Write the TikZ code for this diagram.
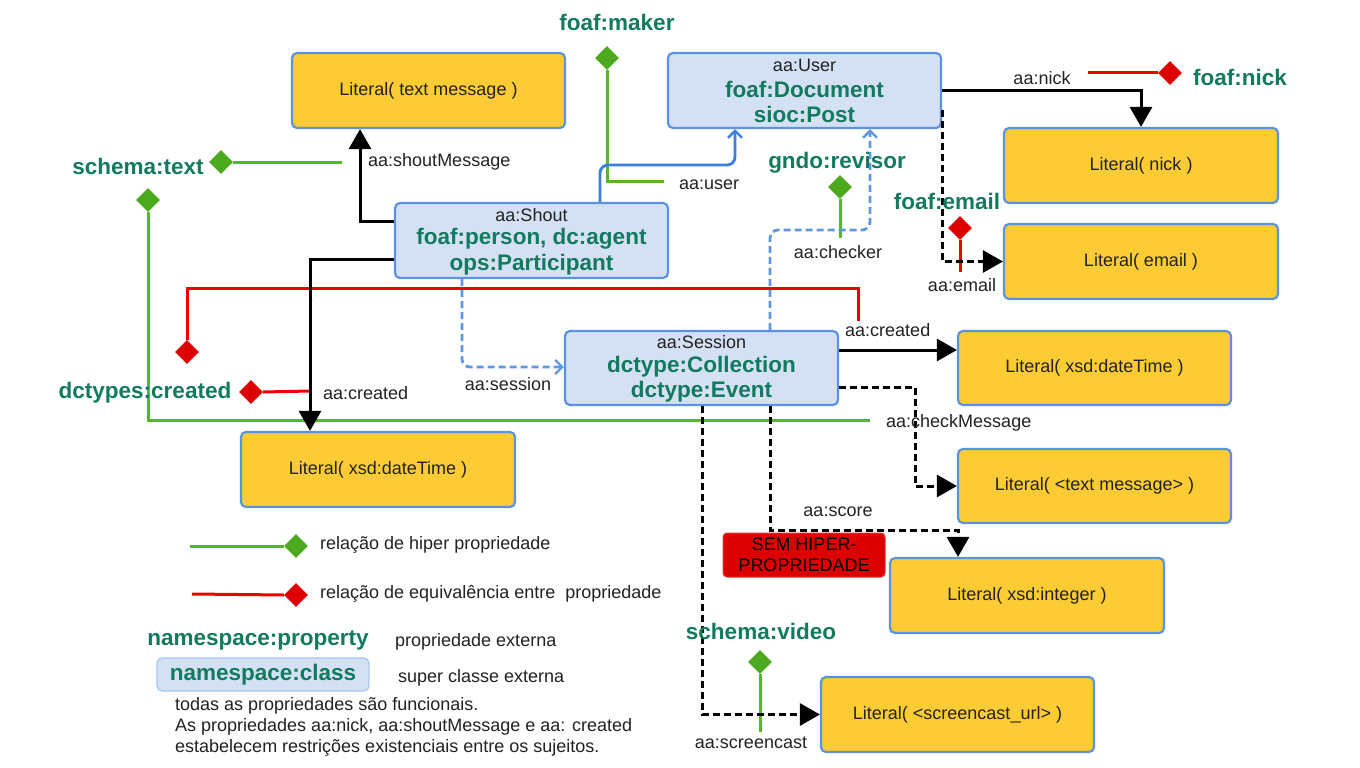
\documentclass[tikz,border=0pt]{standalone}
\usepackage{fontspec}
\setmainfont{Liberation Sans}
\usetikzlibrary{arrows.meta,shapes.geometric,calc}
\definecolor{litfill}{HTML}{FDCB33}
\definecolor{boxblue}{HTML}{5A93E1}
\definecolor{clsfill}{HTML}{D4E1F5}
\definecolor{gtext}{HTML}{127A5E}
\definecolor{hgreen}{HTML}{55B829}
\definecolor{dgreen}{HTML}{4DAA1F}
\definecolor{hred}{HTML}{EE0000}
\definecolor{dred}{HTML}{DD0000}
\definecolor{cblue}{HTML}{3A7FDC}
\definecolor{cbluel}{HTML}{5E97E6}
\definecolor{lgray}{HTML}{222222}
\definecolor{nsborder}{HTML}{A8C6EE}
\newcommand\myN{\fontsize{18}{21}\selectfont\color{lgray}}
\newcommand\myG{\fontsize{22.5}{26}\selectfont\bfseries\color{gtext}}
\begin{document}
\begin{tikzpicture}[x=1pt,y=-1pt,
  litbox/.style={draw=boxblue,fill=litfill,line width=2.2pt,rounded corners=5pt,
    minimum width=273pt,minimum height=75pt,inner sep=0pt,font=\myN},
  clsbox/.style={draw=boxblue,fill=clsfill,line width=2.2pt,rounded corners=5pt,
    minimum width=273pt,minimum height=75pt,inner sep=0pt},
  lbl/.style={font=\myN,inner sep=0pt},
  glbl/.style={font=\myG,inner sep=0pt},
  gdia/.style={diamond,fill=dgreen,inner sep=0pt,minimum width=24pt,minimum height=24pt},
  rdia/.style={diamond,fill=dred,inner sep=0pt,minimum width=24pt,minimum height=24pt},
  blk/.style={draw=black,line width=3pt,-{Triangle[length=20pt,width=22pt]}},
  blkdash/.style={blk,dash pattern=on 7pt off 4pt},
  gline/.style={draw=hgreen,line width=3pt},
  rline/.style={draw=hred,line width=3pt},
  bsolid/.style={draw=cblue,line width=2.8pt,rounded corners=8pt,-{Straight Barb[length=7pt,width=14pt,line width=2.4pt]}},
  bdash/.style={draw=cbluel,line width=2.8pt,rounded corners=8pt,dash pattern=on 7pt off 4pt,-{Straight Barb[length=7pt,width=14pt,line width=2.4pt]}}
]
\useasboundingbox (0,0) rectangle (1360,768);
\fill[white] (0,0) rectangle (1360,768);

% ---------- boxes
\node[litbox] (lt) at (428.5,90.5) {Literal( text message )};
\node[clsbox] (user) at (804.5,90.5) {};
\node[litbox,minimum width=274pt] (lnick) at (1141,165.5) {Literal( nick )};
\node[litbox,minimum width=274pt] (lemail) at (1141,261.5) {Literal( email )};
\node[clsbox] (shout) at (531.5,240.5) {};
\node[clsbox,minimum height=74pt] (session) at (701.5,368) {};
\node[litbox,minimum height=74pt] (ldtR) at (1094.5,368) {Literal( xsd:dateTime )};
\node[litbox,minimum width=274pt] (ldtL) at (378,469.5) {Literal( xsd:dateTime )};
\node[litbox,minimum height=74pt] (ltm) at (1094.5,486) {Literal( <text message> )};
\node[litbox,minimum width=274pt] (lint) at (1027,595.5) {Literal( xsd:integer )};
\node[litbox] (lurl) at (957.5,714.5) {Literal( <screencast\_url> )};

% class texts
\node[lbl] (userT1) at (804.5,65) {aa:User};
\node[glbl] (userT2) at (804.5,89) {foaf:Document};
\node[glbl] (userT3) at (804.5,114) {sioc:Post};
\node[lbl] (shoutT1) at (531.5,215) {aa:Shout};
\node[glbl] (shoutT2) at (531.5,239) {foaf:person, dc:agent};
\node[glbl] (shoutT3) at (531.5,265) {ops:Participant};
\node[lbl] (sesT1) at (701.5,342) {aa:Session};
\node[glbl] (sesT2) at (701.5,367) {dctype:Collection};
\node[glbl] (sesT3) at (701.5,392) {dctype:Event};

% SEM HIPER box
\node[draw=dred!80,fill=dred,line width=1pt,rounded corners=4pt,minimum width=162pt,
  minimum height=44pt,inner sep=0pt,align=center,font=\fontsize{18}{21}\selectfont] (sem) at (804,555)
  {SEM HIPER-\\PROPRIEDADE};

% ---------- coordinates for bends
\coordinate (bu) at (735,165);
\coordinate (bc) at (870,230);
\coordinate (bs) at (958,530);
\coordinate (rc) at (858,288);

% ---------- green / red hyper lines (behind arrows)
\node[gdia] (gdST) at (221,162) {};
\coordinate (gST) at (342,162);
\draw[gline] (gdST.east) -- (gST);
\node[gdia] (gdCM) at (148,200) {};
\coordinate (gCM) at (870,420);
\draw[gline] (gdCM.south) |- (gCM);
\node[gdia] (gdFM) at (607,58) {};
\coordinate (gFM) at (664,181);
\draw[gline] (gdFM.south) |- (gFM);
\node[gdia] (gdGR) at (840,187) {};
\coordinate (gGR) at (840,238);
\draw[gline] (gdGR.south) -- (gGR);
\node[gdia] (gdSV) at (760,662) {};
\coordinate (gSV) at (760,732);
\draw[gline] (gdSV.south) -- (gSV);

\node[rdia] (rdDC) at (251,392) {};
\coordinate (rDC) at (310,391);
\draw[rline] (rdDC.east) -- (rDC);
\node[rdia] (rdFN) at (1170,73) {};
\coordinate (rFN) at (1088,73);
\draw[rline] (rFN) -- (rdFN.west);
\node[rdia] (rdFE) at (960,228) {};
\coordinate (rFE) at (960,272);
\draw[rline] (rdFE.south) -- (rFE);
\node[rdia] (rdSC) at (187,352) {};
\coordinate (rSC) at (858,321);
\draw[rline] (rdSC.north) |- (rc) -- (rSC);

% ---------- connectors
\draw[blk] (shout.west |- 0,221) -| (lt.south -| 360,0);
\draw[blk] (shout.west |- 0,259) -| (ldtL.north -| 310,0);
\draw[bsolid] (shout.north -| 600,0) |- (bu) -- (user.south -| bu);
\draw[bdash] (shout.south -| 462,0) |- (session.west |- 0,367);
\draw[bdash] (session.north -| 770,0) |- (bc) -- (user.south -| bc);
\draw[blk] (user.east) -| (lnick.north);
\draw[blkdash] (user.east |- 0,110) |- (lemail.west);
\draw[blk] (session.east |- 0,350) -- (ldtR.west |- 0,350);
\draw[blkdash] (session.east |- 0,387) -| (ltm.west -| 915,0) -- (ltm.west);
\draw[blkdash] (session.south -| 770,0) |- (bs) -- (lint.north -| bs);
\draw[blkdash] (session.south -| 702,0) |- (lurl.west);

% ---------- connector labels
\node[lbl,anchor=west] (lShM) at (368,162) {aa:shoutMessage};
\node[lbl,anchor=west] (lUser) at (679,185) {aa:user};
\node[lbl] (lChk) at (838,252) {aa:checker};
\node[lbl] (lNick) at (1042,78) {aa:nick};
\node[lbl] (lEmail) at (962,285) {aa:email};
\node[lbl,anchor=west] (lCrL) at (323,393) {aa:created};
\node[lbl] (lSes) at (508,384) {aa:session};
\node[lbl,anchor=west] (lCrR) at (845,330) {aa:created};
\node[lbl,anchor=west] (lCM) at (886,423) {aa:checkMessage};
\node[lbl] (lScore) at (838,512) {aa:score};
\node[lbl] (lScr) at (751,743) {aa:screencast};

% ---------- external property names
\node[glbl] (nFM) at (617,22) {foaf:maker};
\node[glbl] (nST) at (138,166) {schema:text};
\node[glbl] (nGR) at (837,163) {gndo:revisor};
\node[glbl] (nFE) at (947,201) {foaf:email};
\node[glbl] (nFN) at (1240,77) {foaf:nick};
\node[glbl] (nDC) at (145,393) {dctypes:created};
\node[glbl] (nSV) at (761,631) {schema:video};

% ---------- legend
\node[gdia] (legG) at (296,546) {};
\coordinate (legGs) at (190,546);
\draw[gline] (legGs) -- (legG.west);
\node[lbl,anchor=west] (legGt) at (320,545) {relação de hiper propriedade};
\node[rdia] (legR) at (296,595) {};
\coordinate (legRs) at (192,594);
\draw[rline] (legRs) -- (legR.west);
\node[lbl,anchor=west] (legRt) at (320,594) {relação de equivalência entre\ \ propriedade};
\node[glbl] (legP) at (258,640) {namespace:property};
\node[lbl,anchor=west] (legPt) at (395,642) {propriedade externa};
\node[draw=nsborder,fill=clsfill,line width=1.2pt,rounded corners=5pt,minimum width=212pt,
  minimum height=33pt,inner sep=0pt,font=\myG] (legC) at (263,674.5) {namespace:class};
\node[lbl,anchor=west] (legCt) at (398,678) {super classe externa};
\node[lbl,anchor=north west,align=left,font=\fontsize{18}{21}\selectfont\color{lgray}] (note) at (175,697)
  {todas as propriedades são funcionais.\\
   As propriedades aa:nick, aa:shoutMessage e aa: created\\
   estabelecem restrições existenciais entre os sujeitos.};
\end{tikzpicture}
\end{document}
